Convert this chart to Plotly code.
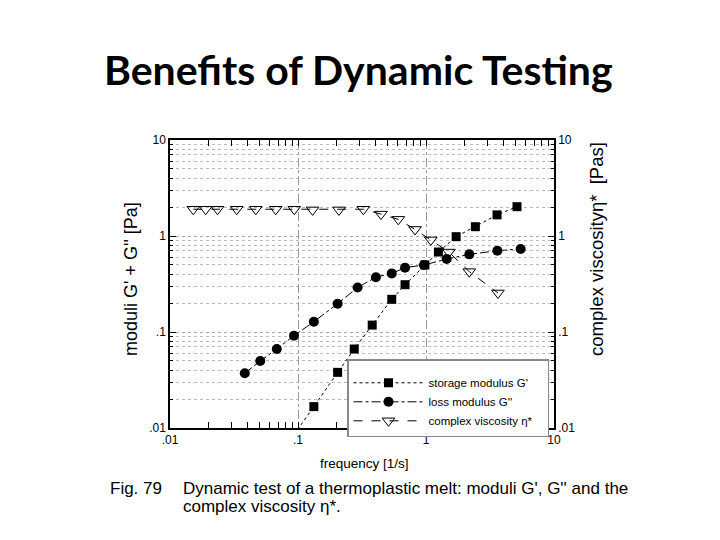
import plotly.graph_objects as go

# ---------------- data ----------------
freq_storage = [0.093, 0.133, 0.204, 0.275, 0.380, 0.540, 0.686, 0.98, 1.25, 1.72, 2.43, 3.59, 5.14]
storage_mod = [0.0085, 0.0167, 0.038, 0.0665, 0.118, 0.219, 0.311, 0.499, 0.681, 0.984, 1.25, 1.66, 2.02]

freq_loss = [0.0384, 0.0507, 0.0683, 0.093, 0.133, 0.204, 0.292, 0.406, 0.540, 0.686, 0.964, 1.45, 2.18, 3.61, 5.49]
loss_mod = [0.0372, 0.0499, 0.0665, 0.0914, 0.128, 0.197, 0.291, 0.372, 0.408, 0.468, 0.499, 0.575, 0.644, 0.703, 0.733]

freq_visc = [0.0152, 0.019, 0.0235, 0.0332, 0.0468, 0.067, 0.0935, 0.130, 0.209, 0.324, 0.445, 0.608, 0.821, 1.09, 1.51, 2.18, 3.65]
complex_visc = [1.90, 1.90, 1.90, 1.90, 1.90, 1.90, 1.90, 1.87, 1.87, 1.90, 1.69, 1.49, 1.17, 0.91, 0.68, 0.425, 0.255]

major_vals = [0.01, 0.1, 1, 10]
major_text = [".01", ".1", "1", "10"]
minor_vals = [m * d for d in (0.01, 0.1, 1) for m in range(2, 10)]

series_names = ["storage modulus G'", "loss modulus G''", "complex viscosity \u03b7*&nbsp;&nbsp;&nbsp;"]

# ---------------- layout geometry ----------------
# the page body adds an 8px offset, so the figure is drawn 8px smaller
OFF = 8
W, H = 720 - OFF, 540 - OFF
L, R, T, B = 170, 554, 140, 428   # plot area in screen pixels


def px(x):
    return (x - L) / (R - L)


def py(y):
    return (B - y) / (B - T)


FONT = "Liberation Sans, Arial, sans-serif"

fig = go.Figure()
fig.add_trace(go.Scatter(
    x=freq_storage, y=storage_mod, name=series_names[0], mode="lines+markers",
    line=dict(color="black", width=1, dash="dot"),
    marker=dict(symbol="square", size=9, color="black"),
))
fig.add_trace(go.Scatter(
    x=freq_loss, y=loss_mod, name=series_names[1], mode="lines+markers",
    line=dict(color="black", width=1, dash="dashdot"),
    marker=dict(symbol="circle", size=10, color="black"),
))
fig.add_trace(go.Scatter(
    x=freq_visc, y=complex_visc, name=series_names[2], mode="lines+markers", yaxis="y2",
    line=dict(color="black", width=1, dash="dash"),
    marker=dict(symbol="triangle-down-open", size=11, color="black", line=dict(width=1)),
))

axis_common = dict(
    type="log", range=[-2, 1], tickvals=major_vals, ticktext=major_text,
    ticks="inside", ticklen=6, tickcolor="black",
    showline=True, linecolor="black", linewidth=1.5,
    tickfont=dict(family=FONT, size=12, color="black"),
    zeroline=False,
)

fig.update_layout(
    width=W, height=H,
    margin=dict(l=L - OFF, r=720 - R, t=T - OFF, b=540 - B),
    paper_bgcolor="white", plot_bgcolor="white",
    showlegend=True,
    legend=dict(
        x=px(347), y=py(359), xanchor="left", yanchor="top",
        bgcolor="white", bordercolor="#888", borderwidth=1.5,
        font=dict(family=FONT, size=11.5, color="black"),
        title=dict(text="&nbsp;", font=dict(size=6)),
        itemwidth=70, tracegroupgap=0,
    ),
    xaxis=dict(
        **axis_common, mirror="allticks",
        showgrid=True, gridcolor="#999", griddash="dashdot", gridwidth=1,
        minor=dict(tickvals=minor_vals, ticks="inside", ticklen=3, tickcolor="black", showgrid=False),
    ),
    yaxis=dict(
        **axis_common,
        showgrid=True, gridcolor="#aaa", griddash="dot", gridwidth=1,
        minor=dict(tickvals=minor_vals, ticks="inside", ticklen=3, tickcolor="black",
                   showgrid=True, gridcolor="#bbb", griddash="dot", gridwidth=1),
    ),
    yaxis2=dict(
        **axis_common, overlaying="y", side="right", showgrid=False,
        minor=dict(tickvals=minor_vals, ticks="inside", ticklen=3, tickcolor="black", showgrid=False),
    ),
)

annotations = [
    dict(text="<b>Benefits of Dynamic Testing</b>", x=px(358), y=py(69), xanchor="center", yanchor="middle",
         font=dict(family="Lato, Open Sans, sans-serif", size=41, color="black")),
    dict(text="moduli G' + G'' [Pa]", x=px(131), y=py(279), textangle=-90, xanchor="center", yanchor="middle",
         font=dict(family=FONT, size=18, color="black")),
    dict(text="complex viscosity\u03b7*  [Pas]", x=px(596), y=py(249), textangle=-90, xanchor="center", yanchor="middle",
         font=dict(family=FONT, size=18.5, color="black")),
    dict(text="frequency [1/s]", x=px(364), y=py(463), xanchor="center", yanchor="middle",
         font=dict(family=FONT, size=13.5, color="black")),
    dict(text="Fig. 79", x=px(108), y=py(488), xanchor="left", yanchor="middle",
         font=dict(family=FONT, size=17, color="black")),
    dict(text="Dynamic test of a thermoplastic melt: moduli G', G'' and the", x=px(181), y=py(488),
         xanchor="left", yanchor="middle", font=dict(family=FONT, size=17, color="black")),
    dict(text="complex viscosity \u03b7*.", x=px(181), y=py(506), xanchor="left", yanchor="middle",
         font=dict(family=FONT, size=17, color="black")),
]
for a in annotations:
    a.update(xref="paper", yref="paper", showarrow=False)
fig.update_layout(annotations=annotations)

fig.write_html("out.html")
